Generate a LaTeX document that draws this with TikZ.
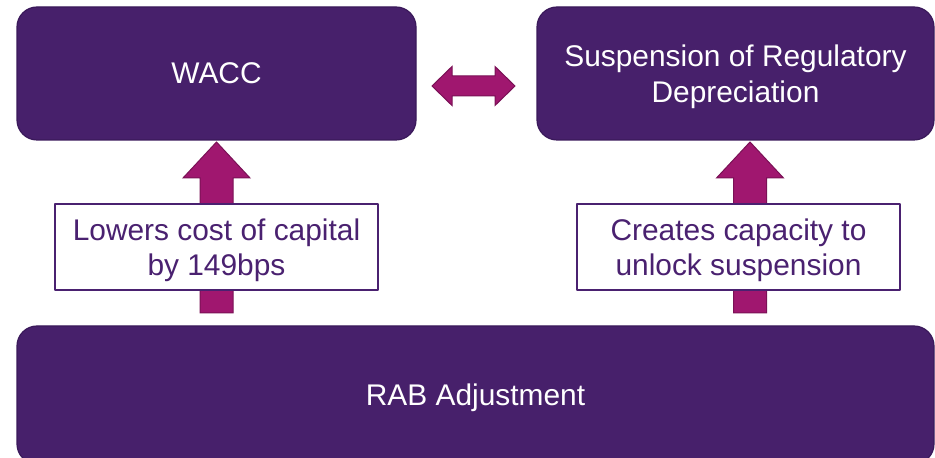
\documentclass[tikz,border=0pt]{standalone}
\usepackage{fontspec}
\setmainfont{Liberation Sans}
\definecolor{boxfill}{RGB}{71,32,107}
\definecolor{boxline}{RGB}{58,25,90}
\definecolor{arrowfill}{RGB}{160,23,111}
\definecolor{arrowline}{RGB}{122,17,86}
\definecolor{labeltext}{RGB}{74,33,112}
\tikzset{
  mainbox/.style={draw=boxline,fill=boxfill,line width=1.2bp,rounded corners=20bp,
    text=white,inner sep=0pt,align=center,text depth=0pt,font=\fontsize{30}{36}\selectfont},
  labelbox/.style={draw=labeltext,fill=white,line width=1.8bp,text=labeltext,
    inner sep=0pt,align=center,text depth=0pt,minimum width=323bp,minimum height=86bp,
    font=\fontsize{30}{35}\selectfont},
  blockarrow/.style={draw=arrowline,fill=arrowfill,line width=1bp,line join=miter},
}
\begin{document}
\begin{tikzpicture}[>=latex,line join=bevel,]
\useasboundingbox (0bp,0bp) rectangle (935bp,458bp);
%%
\node (wacc) at (216.5bp,384.5bp) [mainbox,minimum width=399bp,minimum height=133bp] {WACC};
  \node (susp) at (735.5bp,384.5bp) [mainbox,minimum width=397bp,minimum height=133bp] {Suspension of Regulatory\\Depreciation};
  \node (rab) at (475.5bp,63bp) [mainbox,minimum width=917bp,minimum height=138bp] {RAB Adjustment};
%
  \draw [blockarrow] (432bp,372bp) -- (452bp,391.5bp) -- (452bp,382bp) -- (495bp,382bp) -- (495bp,391.5bp)
    -- (515bp,372bp) -- (495bp,352.5bp) -- (495bp,362bp) -- (452bp,362bp) -- (452bp,352.5bp) -- cycle;
  \draw [blockarrow] (200bp,145bp) -- (200bp,280bp) -- (183bp,280bp) -- (216.5bp,316bp)
    -- (250bp,280bp) -- (233bp,280bp) -- (233bp,145bp) -- cycle;
  \draw [blockarrow] (733.5bp,145bp) -- (733.5bp,280bp) -- (716.5bp,280bp) -- (750bp,316bp)
    -- (783.5bp,280bp) -- (766.5bp,280bp) -- (766.5bp,145bp) -- cycle;
%
  \node (lowers) at (216.5bp,211bp) [labelbox] {Lowers cost of capital\\by 149bps};
  \node (creates) at (738.5bp,211bp) [labelbox] {Creates capacity to\\unlock suspension};
%
\end{tikzpicture}
\end{document}
